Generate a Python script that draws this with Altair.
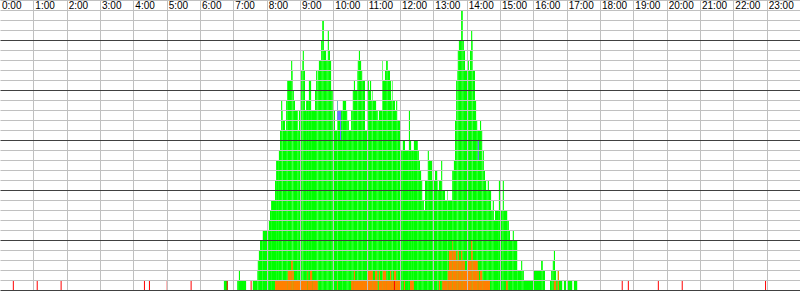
import altair as alt
import pandas as pd

# ---- data (times in minutes after midnight) ----
# total stack height, as breakpoints: height holds from this minute to the next
sky_t = [403, 410, 427, 430, 432, 443, 455, 463, 464, 466, 468, 473, 484, 486, 488, 495, 497, 502, 504, 506,
         508, 509, 513, 515, 517, 524, 526, 527, 529, 531, 536, 538, 542, 544, 545, 547, 549, 551, 556, 560,
         567, 569, 571, 572, 574, 578, 580, 583, 587, 590, 592, 594, 596, 599, 603, 607, 608, 617, 623, 625,
         628, 632, 635, 637, 639, 643, 644, 646, 648, 650, 652, 657, 661, 662, 664, 666, 668, 670, 671, 677,
         680, 682, 688, 689, 693, 695, 698, 702, 704, 706, 707, 711, 713, 715, 720, 722, 725, 729, 736, 738,
         740, 745, 752, 754, 756, 758, 760, 763, 765, 770, 772, 778, 783, 787, 788, 790, 794, 796, 801, 805,
         806, 814, 817, 819, 821, 823, 824, 826, 830, 833, 835, 837, 842, 844, 846, 848, 850, 851, 855, 857,
         859, 864, 866, 868, 869, 871, 873, 875, 878, 880, 884, 887, 889, 891, 898, 900, 905, 907, 913, 916,
         918, 923, 925, 931, 938, 940, 943, 961, 974, 977, 981, 990, 992, 995, 997, 999, 1001, 1004, 1006, 1012,
         1015, 1019, 1021, 1022, 1030, 1033, 1039]
sky_h = [1, 0, 1, 2, 1, 0, 1, 2, 3, 4, 5, 6, 7, 8, 9, 11, 13, 14, 16, 19,
         18, 17, 16, 19, 21, 23, 22, 20, 19, 18, 16, 18, 22, 23, 24, 22, 18, 19, 21, 18,
         20, 22, 21, 22, 23, 25, 27, 24, 23, 26, 24, 23, 20, 18, 16, 19, 18, 19, 18, 17,
         16, 18, 20, 21, 20, 22, 23, 24, 23, 22, 21, 16, 19, 21, 20, 21, 19, 20, 19, 18,
         17, 18, 23, 21, 22, 23, 22, 21, 19, 21, 19, 18, 19, 17, 15, 14, 15, 14, 18, 15,
         14, 15, 14, 13, 12, 11, 9, 8, 11, 14, 13, 11, 12, 11, 10, 11, 13, 10, 9, 10,
         9, 12, 13, 17, 21, 22, 24, 25, 28, 25, 24, 22, 23, 22, 24, 26, 25, 22, 19, 17,
         16, 17, 16, 13, 14, 12, 11, 10, 11, 10, 8, 9, 7, 8, 11, 8, 11, 8, 7, 6,
         5, 6, 5, 2, 3, 2, 1, 2, 3, 2, 0, 1, 2, 3, 4, 2, 1, 2, 1, 0,
         1, 0, 2, 1, 0, 1, 0]

# orange part at the bottom of the stack
orange_t = [495, 518, 524, 527, 529, 553, 554, 558, 562, 572, 607, 608, 632, 637, 639, 661, 671, 675, 679, 680,
            682, 684, 689, 695, 702, 704, 709, 713, 720, 727, 729, 738, 745, 790, 792, 796, 806, 808, 814, 815,
            821, 824, 826, 830, 832, 837, 841, 848, 850, 851, 860, 862, 864, 868, 882, 911, 914, 997, 1001, 1004,
            1006]
orange_h = [1, 2, 3, 2, 1, 2, 1, 2, 1, 0, 1, 0, 1, 2, 1, 2, 1, 2, 1, 0,
            2, 1, 2, 1, 2, 1, 2, 1, 0, 1, 0, 1, 0, 1, 0, 1, 2, 4, 5, 4,
            3, 4, 3, 4, 3, 2, 3, 5, 4, 3, 2, 1, 2, 1, 0, 1, 0, 1, 0, 2,
            0]

# blue cells inside the stack
blue_t0 = [607, 612, 607, 860]
blue_t1 = [614, 614, 608, 862]
blue_lo = [17, 15, 18, 13]
blue_hi = [18, 17, 19, 15]

# red single-minute markers in the bottom row
red_t = [24, 67, 110, 260, 269, 301, 344, 409, 452, 710, 1120, 1131, 1185, 1228, 1378]

hour_labels = ["0:00", "1:00", "2:00", "3:00", "4:00", "5:00", "6:00", "7:00", "8:00", "9:00", "10:00", "11:00",
               "12:00", "13:00", "14:00", "15:00", "16:00", "17:00", "18:00", "19:00", "20:00", "21:00", "22:00",
               "23:00"]


def segments(ts, hs):
    rows = []
    for i in range(len(ts) - 1):
        if hs[i] > 0:
            rows.append({"t0": ts[i], "t1": ts[i + 1], "lo": 0, "hi": hs[i]})
    return pd.DataFrame(rows)


green_df = segments(sky_t, sky_h)
orange_df = segments(orange_t, orange_h)
blue_df = pd.DataFrame({"t0": blue_t0, "t1": blue_t1, "lo": blue_lo, "hi": blue_hi})
red_df = pd.DataFrame({"t0": red_t, "lo": [0] * len(red_t), "hi": [1] * len(red_t)})
label_df = pd.DataFrame({"label": hour_labels, "t0": [i * 60 for i in range(len(hour_labels))],
                         "lo": [28] * len(hour_labels)})

xscale = alt.Scale(domain=[0, 1440], nice=False, zero=False)
yscale = alt.Scale(domain=[0, 29], nice=False, zero=False)

xaxis = alt.Axis(values=list(range(60, 1440, 60)), grid=True, gridColor="#c0c0c0", gridWidth=1,
                 gridOpacity=1, labels=False, ticks=False, domain=False, title=None, zindex=1)
yaxis = alt.Axis(values=list(range(0, 30)), grid=True,
                 gridColor={"condition": {"test": "datum.value % 5 === 0", "value": "#404040"},
                            "value": "#c0c0c0"},
                 gridWidth=1, gridOpacity=1, labels=False, ticks=False, domain=False, title=None, zindex=1)

X = alt.X("t0:Q", scale=xscale, axis=xaxis)
Y = alt.Y("lo:Q", scale=yscale, axis=yaxis)

green = alt.Chart(green_df).mark_rect(color="#00ff00").encode(x=X, x2="t1:Q", y=Y, y2="hi:Q")
orange = alt.Chart(orange_df).mark_rect(color="#ff8000").encode(x=X, x2="t1:Q", y=Y, y2="hi:Q")
blue = alt.Chart(blue_df).mark_rect(color="#6f6fff").encode(x=X, x2="t1:Q", y=Y, y2="hi:Q")
red = alt.Chart(red_df).mark_rule(color="#ff0000", strokeWidth=1).encode(x=X, y=Y, y2="hi:Q")
labels = alt.Chart(label_df).mark_text(align="left", baseline="alphabetic", dx=2, dy=-1,
                                       font="Liberation Sans", fontSize=10, color="#000000").encode(
    x=X, y=Y, text="label:N")

chart = alt.layer(green, orange, blue, red, labels).properties(
    width=800, height=290, padding=0, background="#ffffff"
).configure_view(stroke=None)

chart.save("out.html", embed_options={"renderer": "svg", "actions": False})
